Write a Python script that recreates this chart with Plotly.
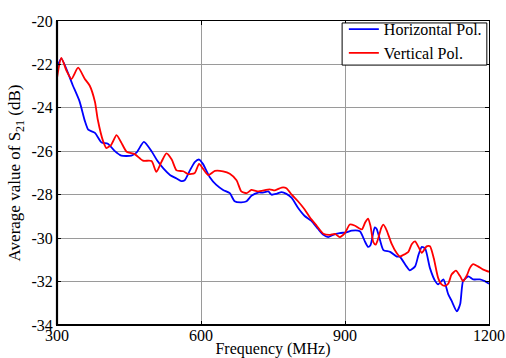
import plotly.graph_objects as go

# Horizontal polarization
h_freq = [300, 309, 333, 347, 358, 365, 379, 393, 406, 420, 434, 455, 466, 481, 497,
          508, 522, 536, 549, 559, 566, 577, 587, 596, 604, 618, 632, 646, 660, 670,
          684, 695, 705, 719, 729, 740, 747, 757, 768, 778, 789, 802, 816, 830, 844,
          855, 865, 875, 889, 903, 914, 931, 942, 948, 953, 962, 966, 973, 980, 994,
          1008, 1014, 1028, 1035, 1046, 1053, 1060, 1067, 1077, 1088, 1094, 1105, 1115,
          1122, 1133, 1140, 1146, 1157, 1167, 1181, 1191, 1200]
h_s21 = [-22.15, -21.73, -22.97, -23.7, -24.6, -25.0, -25.15, -25.6, -25.65, -25.98,
         -26.2, -26.2, -26.05, -25.57, -26.0, -26.4, -26.8, -27.1, -27.25, -27.37,
         -27.33, -26.88, -26.5, -26.38, -26.58, -27.18, -27.55, -27.78, -27.93, -28.3,
         -28.35, -28.3, -28.05, -27.9, -27.9, -27.85, -28.0, -27.96, -27.88, -27.96,
         -28.15, -28.6, -28.98, -29.2, -29.58, -29.85, -29.95, -29.85, -29.77, -29.73,
         -29.65, -29.68, -30.18, -30.4, -30.33, -29.5, -29.58, -30.1, -30.55, -30.63,
         -30.85, -30.85, -31.3, -31.48, -31.3, -30.78, -30.4, -30.48, -31.38, -31.98,
         -32.13, -31.9, -32.58, -32.88, -33.37, -33.03, -31.98, -31.76, -31.9, -31.9,
         -31.98, -32.1]

# Vertical polarization
v_freq = [300, 309, 320, 330, 344, 358, 368, 379, 385, 396, 403, 413, 424, 434, 445,
          462, 479, 497, 507, 518, 528, 539, 549, 563, 573, 587, 596, 604, 615, 629,
          646, 660, 674, 684, 695, 705, 718, 743, 754, 768, 778, 789, 802, 816, 827,
          841, 855, 869, 879, 889, 900, 910, 921, 935, 942, 948, 953, 959, 964, 969,
          976, 980, 987, 997, 1008, 1014, 1021, 1032, 1039, 1046, 1053, 1060, 1070,
          1077, 1085, 1094, 1101, 1108, 1115, 1122, 1131, 1140, 1146, 1154, 1160, 1167,
          1177, 1188, 1200]
v_s21 = [-22.63, -21.7, -22.3, -22.67, -22.15, -22.67, -22.97, -23.72, -24.55, -25.53,
         -25.85, -25.7, -25.26, -25.6, -26.02, -26.13, -26.43, -26.45, -26.95, -26.47,
         -26.1, -26.38, -26.88, -26.92, -27.05, -27.0, -26.58, -26.8, -27.1, -26.9,
         -26.92, -27.03, -27.33, -27.85, -27.93, -27.78, -27.85, -27.75, -27.8, -27.67,
         -27.7, -28.0, -28.3, -28.68, -29.05, -29.43, -29.8, -29.85, -29.8, -29.95,
         -29.76, -29.37, -29.43, -29.6, -29.28, -29.1, -29.43, -30.18, -30.3, -30.03,
         -29.5, -29.38, -29.65, -30.25, -30.7, -30.85, -30.78, -30.63, -30.28, -30.15,
         -30.4, -30.68, -30.38, -30.37, -30.93, -31.83, -32.13, -32.2, -32.1, -31.68,
         -31.5, -31.76, -31.98, -31.71, -31.38, -31.2, -31.3, -31.45, -31.55]

x_ticks = [300, 600, 900, 1200]
y_ticks = [-34, -32, -30, -28, -26, -24, -22, -20]

FONT = "Liberation Serif"

fig = go.Figure()
fig.add_trace(go.Scatter(x=h_freq, y=h_s21, mode="lines", name="Horizontal Pol.",
                         line=dict(color="#0000FF", width=1.8, shape="spline", smoothing=0.6)))
fig.add_trace(go.Scatter(x=v_freq, y=v_s21, mode="lines", name="Vertical Pol.",
                         line=dict(color="#FF0000", width=1.8, shape="spline", smoothing=0.6)))

fig.update_layout(
    width=506, height=358,
    margin=dict(l=57, r=17, t=14, b=33),
    paper_bgcolor="white", plot_bgcolor="white",
    font=dict(family=FONT, size=16, color="black"),
    showlegend=True,
    legend=dict(x=0.995, y=1.029, xanchor="right", yanchor="top",
                bgcolor="rgba(0,0,0,0)", borderwidth=0,
                font=dict(family=FONT, size=16, color="black"),
                tracegroupgap=0, itemwidth=30),
    xaxis=dict(range=[300, 1200], tickvals=x_ticks, ticktext=[str(v) for v in x_ticks],
               automargin=False,
               showgrid=True, gridcolor="#9a9a9a", gridwidth=1,
               showline=True, linecolor="black", linewidth=1, mirror="allticks",
               ticks="inside", ticklen=4, tickcolor="black", zeroline=False,
               ticklabelstandoff=-4,
               tickfont=dict(family=FONT, size=16),
               title=dict(text="Frequency (MHz)", standoff=8,
                          font=dict(family=FONT, size=16))),
    yaxis=dict(range=[-34, -20], tickvals=y_ticks, ticktext=[str(v) for v in y_ticks],
               automargin=False,
               showgrid=True, gridcolor="#9a9a9a", gridwidth=1,
               showline=True, linecolor="black", linewidth=1, mirror="allticks",
               ticks="inside", ticklen=4, tickcolor="black", zeroline=False,
               tickfont=dict(family=FONT, size=16),
               title=dict(text="Average value of S<sub>21</sub> (dB)", standoff=6,
                          font=dict(family=FONT, size=17))),
)

# legend frame
fig.add_shape(type="rect", xref="paper", yref="paper", x0=0.66, x1=0.995, y0=0.855, y1=0.9936,
              line=dict(color="black", width=1), fillcolor="white", layer="above")
# thicker left and bottom frame lines
fig.add_shape(type="line", xref="paper", yref="paper", x0=0, x1=0, y0=0, y1=1,
              line=dict(color="black", width=2.2))
fig.add_shape(type="line", xref="paper", yref="paper", x0=0, x1=1, y0=0, y1=0,
              line=dict(color="black", width=2.2))

fig.write_html("out.html")
